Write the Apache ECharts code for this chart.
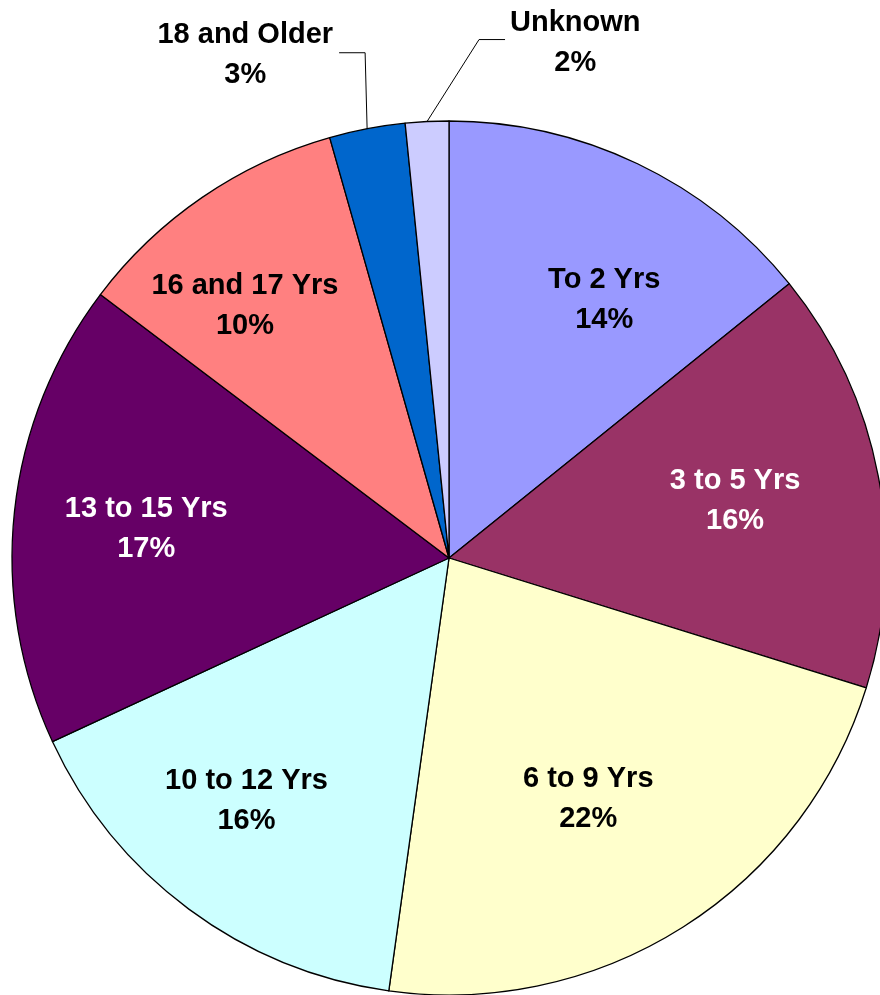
<!DOCTYPE html>
<html>
<head>
<meta charset="utf-8">
<style>
  html, body { margin: 0; padding: 0; background: #ffffff; }
  #chart { width: 880px; height: 995px; }
</style>
<script src="https://cdn.jsdelivr.net/npm/echarts@6/dist/echarts.min.js"></script>
</head>
<body>
<div id="chart"></div>
<script>
// Data
const categories = ['To 2 Yrs', '3 to 5 Yrs', '6 to 9 Yrs', '10 to 12 Yrs', '13 to 15 Yrs', '16 and 17 Yrs', '18 and Older', 'Unknown'];
const values = [14.2, 15.6, 22.4, 15.9, 17.2, 10.3, 2.8, 1.6];
const sliceColors = ['#9999FF', '#993366', '#FFFFCC', '#CCFFFF', '#660066', '#FF8080', '#0066CC', '#CCCCFF'];
const labelColors = ['#000000', '#FFFFFF', '#000000', '#000000', '#FFFFFF', '#000000', '#000000', '#000000'];
const outsideItems = ['18 and Older', 'Unknown'];

const FONT = {
  fontFamily: '"Liberation Sans", Arial, sans-serif',
  fontWeight: 'bold',
  fontSize: 29,
  lineHeight: 40
};

// small label nudges (layout only) for the inside labels
const insideNudge = [[23, 19], [-15, 0], [-25, -18], [-20, -3], [2, 4], [-31, 1], [0, 0], [0, 0]];

function fmt(p) { return p.name + '\n' + Math.round(p.percent) + '%'; }

const mainData = categories.map((c, i) => {
  const outside = outsideItems.indexOf(c) >= 0;
  return {
    name: c,
    value: values[i],
    itemStyle: { color: sliceColors[i] },
    label: outside ? { show: true, position: 'outside', color: '#000000' } : { show: false },
    labelLine: outside ? { show: true, length: 60, length2: 20, lineStyle: { color: '#000000', width: 1 } } : { show: false }
  };
});

const overlayData = categories.map((c, i) => {
  const outside = outsideItems.indexOf(c) >= 0;
  return {
    name: c,
    value: values[i],
    label: { show: !outside, color: labelColors[i] }
  };
});

const chart = echarts.init(document.getElementById('chart'), null, { renderer: 'canvas' });
chart.setOption({
  animation: false,
  backgroundColor: '#ffffff',
  series: [
    {
      type: 'pie',
      center: [449, 558],
      radius: [0, 437],
      startAngle: 90,
      clockwise: true,
      avoidLabelOverlap: false,
      silent: true,
      emphasis: { disabled: true },
      itemStyle: { borderColor: '#000000', borderWidth: 1.3 },
      label: Object.assign({ formatter: fmt }, FONT),
      labelLayout: function (p) {
        const pts = p.labelLinePoints;
        if (!pts) return {};
        const p0 = pts[0];
        const w = p.labelRect.width;
        if (p.dataIndex === 6) {
          const bend = [p0[0] - 2, p0[1] - 76];
          const end = [bend[0] - 26, bend[1]];
          return {
            x: end[0] - 6 - w / 2, y: bend[1] + 2,
            align: 'center', verticalAlign: 'middle',
            labelLinePoints: [p0, bend, end]
          };
        }
        if (p.dataIndex === 7) {
          const bend = [p0[0] + 52, p0[1] - 82];
          const end = [bend[0] + 26, bend[1]];
          return {
            x: end[0] + 5 + w / 2, y: bend[1] + 3,
            align: 'center', verticalAlign: 'middle',
            labelLinePoints: [p0, bend, end]
          };
        }
        return {};
      },
      data: mainData
    },
    {
      type: 'pie',
      center: [449, 558],
      radius: [170, 437],
      startAngle: 90,
      clockwise: true,
      avoidLabelOverlap: false,
      silent: true,
      emphasis: { disabled: true },
      itemStyle: { color: 'rgba(0,0,0,0)', borderWidth: 0 },
      label: Object.assign({ position: 'inside', formatter: fmt }, FONT),
      labelLine: { show: false },
      labelLayout: function (p) {
        const n = insideNudge[p.dataIndex] || [0, 0];
        return { dx: n[0], dy: n[1] };
      },
      data: overlayData
    }
  ]
});
</script>
</body>
</html>
